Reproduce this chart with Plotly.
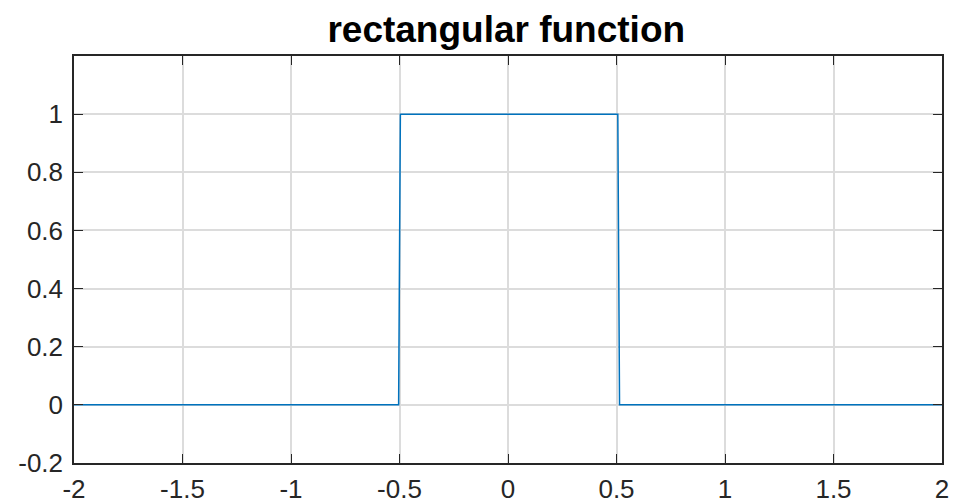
import plotly.graph_objects as go

x_vals = [-2.0, -0.504, -0.496, 0.506, 0.514, 2.0]
y_vals = [0.0, 0.0, 1.0, 1.0, 0.0, 0.0]

x_ticks = [-2, -1.5, -1, -0.5, 0, 0.5, 1, 1.5, 2]
x_labels = ["-2", "-1.5", "-1", "-0.5", "0", "0.5", "1", "1.5", "2"]
y_ticks = [-0.2, 0, 0.2, 0.4, 0.6, 0.8, 1]
y_labels = ["-0.2", "0", "0.2", "0.4", "0.6", "0.8", "1"]

fig = go.Figure()
fig.add_trace(go.Scatter(x=x_vals, y=y_vals, mode="lines",
                         line=dict(color="#0072BD", width=1.5), showlegend=False))

axis_common = dict(
    showline=True, linecolor="#262626", linewidth=1.5, mirror="ticks",
    ticks="inside", ticklen=9, tickwidth=1.3, tickcolor="#262626",
    showgrid=True, gridcolor="#dcdcdc", gridwidth=1.5, zeroline=False,
    automargin=False,
    tickfont=dict(family="Liberation Sans, Arial, sans-serif", size=26, color="#262626"),
)

fig.update_xaxes(range=[-2, 2], tickvals=x_ticks, ticktext=x_labels,
                 ticklabelstandoff=2, **axis_common)
fig.update_yaxes(range=[-0.2, 1.2], tickvals=y_ticks, ticktext=y_labels,
                 ticklabelstandoff=4, **axis_common)

fig.update_layout(
    width=954, height=504,
    margin=dict(l=74, r=12, t=56, b=41, autoexpand=False),
    paper_bgcolor="white", plot_bgcolor="white",
    title=dict(text="<b>rectangular function</b>", x=0.498, xref="paper", xanchor="center",
               y=1 - 29 / 504, yanchor="middle", yref="container",
               font=dict(family="Liberation Sans, Arial, sans-serif", size=37, color="black")),
)

fig.write_html("out.html", config={"displayModeBar": False},
               post_script="document.body.style.margin='0px';document.body.style.overflow='hidden';")
